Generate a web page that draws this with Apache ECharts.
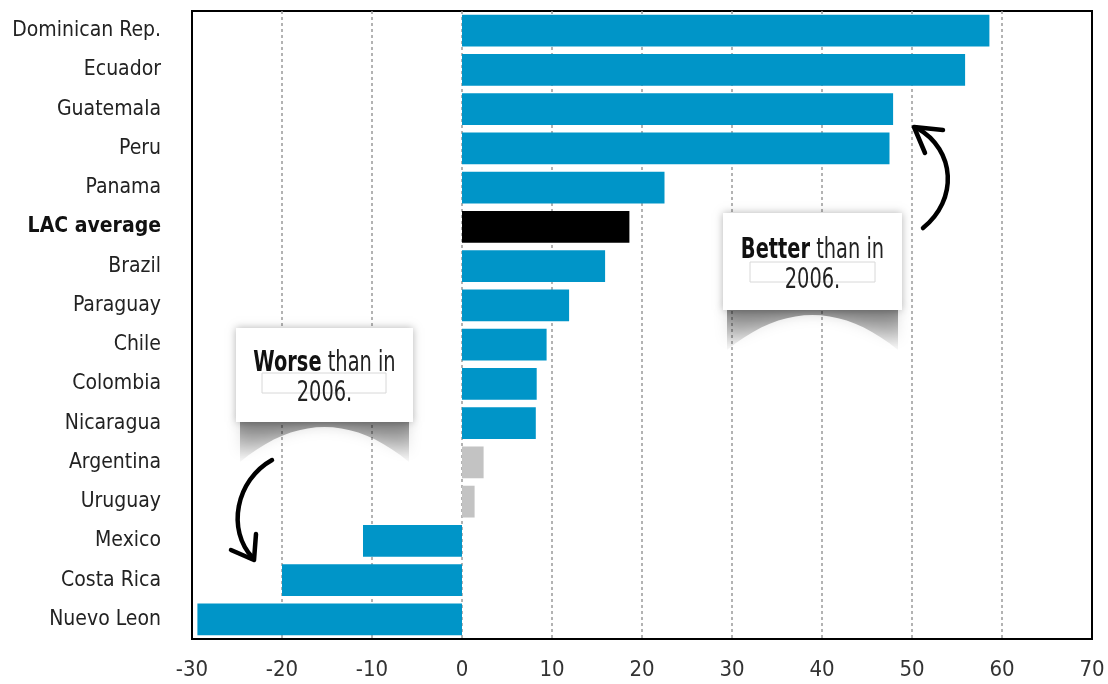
<!DOCTYPE html>
<html>
<head>
<meta charset="utf-8">
<script src="https://cdn.jsdelivr.net/npm/echarts@6/dist/echarts.min.js"></script>
<style>
html,body{margin:0;padding:0;background:#fff;}
#c{width:1108px;height:684px;}
</style>
</head>
<body>
<div id="c"></div>
<script>
var categories = ['Dominican Rep.','Ecuador','Guatemala','Peru','Panama','LAC average','Brazil','Paraguay','Chile','Colombia','Nicaragua','Argentina','Uruguay','Mexico','Costa Rica','Nuevo Leon'];
var values = [58.6, 55.9, 47.9, 47.5, 22.5, 18.6, 15.9, 11.9, 9.4, 8.3, 8.2, 2.4, 1.4, -11.0, -20.0, -29.4];
var barColors = ['#0095c8','#0095c8','#0095c8','#0095c8','#0095c8','#000000','#0095c8','#0095c8','#0095c8','#0095c8','#0095c8','#c3c3c3','#c3c3c3','#0095c8','#0095c8','#0095c8'];
var xTicks = {min: -30, max: 70, interval: 10};

var FONT = '"DejaVu Sans Condensed","Liberation Sans Narrow","Roboto","Noto Sans",sans-serif';
var chart = echarts.init(document.getElementById('c'));

var data = values.map(function(v, i){
  return {value: v, itemStyle: {color: barColors[i]}};
});

function archPoints(left, right, bottom){
  var pts = [[left+4, bottom-2], [right-4, bottom-2], [right-4, bottom+40]];
  var mid = (left + right) / 2;
  for (var k = 1; k < 20; k++){
    var t = k / 20;
    var x = (1-t)*(1-t)*(right-4) + 2*(1-t)*t*mid + t*t*(left+4);
    var y = (1-t)*(1-t)*(bottom+40) + 2*(1-t)*t*(bottom-30) + t*t*(bottom+40);
    pts.push([x, y]);
  }
  pts.push([left+4, bottom+40]);
  return pts;
}

function callout(top, bottom, left, right, bold, innerRect){
  var mid = (left + right) / 2;
  return [
    {type:'polygon', z: 10, shape:{points: archPoints(left, right, bottom)},
      style:{fill: {type:'linear', x:0, y:0, x2:0, y2:1, colorStops:[{offset:0,color:'rgba(0,0,0,0.45)'},{offset:1,color:'rgba(0,0,0,0.02)'}]},
        shadowBlur: 14, shadowColor:'rgba(0,0,0,0.35)'}},
    {type:'rect', z: 11, shape:{x:left, y:top, width:right-left, height:bottom-top},
      style:{fill:'#fff', shadowBlur: 8, shadowColor:'rgba(0,0,0,0.3)'}},
    {type:'rect', z: 12, shape:innerRect, style:{fill:'none', stroke:'#d8d8d8', lineWidth:1}},
    {type:'text', z: 13, x: mid, y: top + (bottom-top)/2 + 4, scaleX: 0.77,
      style:{text:'{b|'+bold+'}{n| than in}\n{n|2006.}', align:'center', verticalAlign:'middle',
        rich:{b:{fontFamily:FONT, fontSize:28, fontWeight:'bold', fill:'#111', lineHeight:30},
              n:{fontFamily:FONT, fontSize:28, fill:'#222', lineHeight:30}}}}
  ];
}

var graphics = []
  .concat(callout(213, 310, 723, 902, 'Better', {x:750,y:262,width:125,height:20}))
  .concat(callout(328, 422, 236, 413, 'Worse', {x:262,y:373,width:124,height:20}))
  .concat([
    {type:'bezierCurve', z: 14, shape:{x1:923, y1:228, cpx1:958, cpy1:200, cpx2:956, cpy2:150, x2:917, y2:128},
      style:{fill:'none', stroke:'#000', lineWidth:4.5, lineCap:'round'}},
    {type:'polyline', z: 14, shape:{points:[[943,130],[914,127],[925,153]]},
      style:{fill:'none', stroke:'#000', lineWidth:4.5, lineCap:'round', lineJoin:'round'}},
    {type:'bezierCurve', z: 14, shape:{x1:272, y1:460, cpx1:236, cpy1:480, cpx2:226, cpy2:530, x2:253, y2:558},
      style:{fill:'none', stroke:'#000', lineWidth:4.5, lineCap:'round'}},
    {type:'polyline', z: 14, shape:{points:[[231,550],[254,560],[256,534]]},
      style:{fill:'none', stroke:'#000', lineWidth:4.5, lineCap:'round', lineJoin:'round'}}
  ]);

chart.setOption({
  animation: false,
  grid: {left: 192, right: 16, top: 11, bottom: 45, show: true, borderColor: '#000', borderWidth: 2, backgroundColor: 'transparent'},
  xAxis: {
    type: 'value', min: xTicks.min, max: xTicks.max, interval: xTicks.interval,
    axisLine: {show: false}, axisTick: {show: false},
    axisLabel: {fontFamily: FONT, fontSize: 22, color: '#333', margin: 20},
    splitLine: {show: true, showMinLine: false, showMaxLine: false, lineStyle: {color: '#9a9a9a', type: [3, 3], width: 1.5}}
  },
  yAxis: {
    type: 'category', data: categories, inverse: true,
    axisLine: {show: false}, axisTick: {show: false},
    axisLabel: {fontFamily: FONT, fontSize: 21, color: '#222', margin: 31,
      formatter: function(v){ return v === 'LAC average' ? '{b|' + v + '}' : v; },
      rich: {b: {fontFamily: FONT, fontSize: 21, fontWeight: 'bold', color: '#111'}}}
  },
  series: [{type: 'bar', data: data, barCategoryGap: '19%'}],
  graphic: graphics
});
</script>
</body>
</html>
